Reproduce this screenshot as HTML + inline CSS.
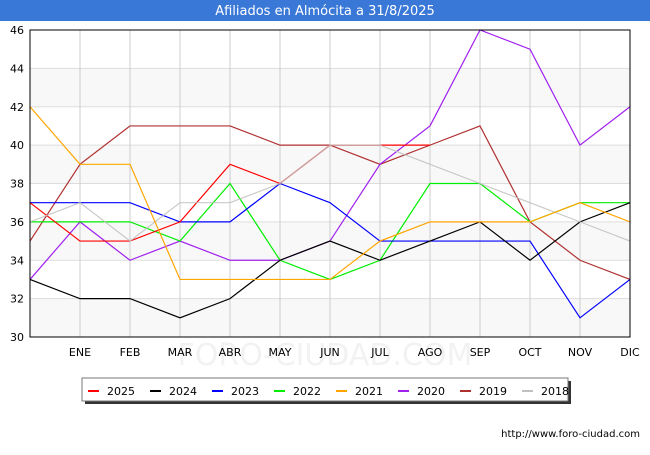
<!DOCTYPE html>
<html><head><meta charset="utf-8"><style>
body{margin:0;background:#fff;font-family:"Liberation Sans","DejaVu Sans",sans-serif}
svg text{font-family:"DejaVu Sans","Liberation Sans",sans-serif}
</style></head><body>
<svg id="c" width="650" height="450">
<rect x="0" y="0" width="650" height="450" fill="#fff"/>
<rect x="0" y="0" width="650" height="21" fill="#3a78d8"/>
<text x="325" y="15" text-anchor="middle" fill="#fff" font-size="13">Afiliados en Almócita a 31/8/2025</text>
<g id="bands"></g><g id="grid"></g>
<text x="325" y="365" text-anchor="middle" fill="#f2f2f2" font-size="30">FORO-CIUDAD.COM</text>
<g id="lines"></g>
<rect x="30" y="30" width="600" height="307" fill="none" stroke="#000" stroke-width="1"/>
<g id="axes"></g>
<rect x="85" y="381" width="486" height="23" fill="#333"/>
<rect x="82" y="378" width="486" height="23" fill="#fff" stroke="#777"/>
<g id="legend"></g>
<text x="640" y="437" text-anchor="end" font-size="10" fill="#000">http://www.foro-ciudad.com</text>
</svg>
<script>
const months=["","ENE","FEB","MAR","ABR","MAY","JUN","JUL","AGO","SEP","OCT","NOV","DIC"];
const yTicks=[30,32,34,36,38,40,42,44,46];
const seriesNames=["2025","2024","2023","2022","2021","2020","2019","2018"];
const colors=["#ff0000","#000000","#0000ff","#00ee00","#ffa500","#a020f0","#b03030","#c0c0c0"];
const s2025=[37,35,35,36,39,38,40,40,40];
const s2024=[33,32,32,31,32,34,35,34,35,36,34,36,37];
const s2023=[37,37,37,36,36,38,37,35,35,35,35,31,33];
const s2022=[36,36,36,35,38,34,33,34,38,38,36,37,37];
const s2021=[42,39,39,33,33,33,33,35,36,36,36,37,36];
const s2020=[33,36,34,35,34,34,35,39,41,46,45,40,42];
const s2019=[35,39,41,41,41,40,40,39,40,41,36,34,33];
const s2018=[36,37,35,37,37,38,40,40,39,38,37,36,35];
const all=[s2025,s2024,s2023,s2022,s2021,s2020,s2019,s2018];
const NS="http://www.w3.org/2000/svg";
const x=i=>30+i*50, y=v=>337-(v-30)*307/16;
function mk(t,a,p){const e=document.createElementNS(NS,t);for(const k in a)e.setAttribute(k,a[k]);p.appendChild(e);return e;}
const bands=document.getElementById('bands'),grid=document.getElementById('grid'),axes=document.getElementById('axes'),lines=document.getElementById('lines'),leg=document.getElementById('legend');
for(let i=0;i<yTicks.length-1;i++){if(i%2==0){const b=mk('rect',{x:30,y:y(yTicks[i+1]),width:600,height:y(yTicks[i])-y(yTicks[i+1]),fill:'#f8f8f8'},bands);

}}
yTicks.forEach(v=>{const l=mk('line',{x1:30,x2:630,y1:y(v),y2:y(v),stroke:'#dddddd'},grid);


const t=mk('text',{x:24,y:y(v)+4,'text-anchor':'end','font-size':11},axes);t.textContent=v;

});
months.forEach((m,i)=>{const l=mk('line',{x1:x(i),x2:x(i),y1:30,y2:337,stroke:'#cccccc'},grid);


if(m){const t=mk('text',{x:x(i),y:356,'text-anchor':'middle','font-size':11},axes);t.textContent=m;

}});
const order=[6,5,3,2,1,0,7,4];
order.forEach(s=>{const d=all[s];const p=mk('polyline',{points:d.map((v,i)=>x(i)+','+y(v)).join(' '),fill:'none',stroke:colors[s],'stroke-width':1.2,'stroke-opacity':s==7?0.85:1},lines);

});
seriesNames.forEach((n,i)=>{const lx=88+i*62;const l=mk('line',{x1:lx,x2:lx+11,y1:391,y2:391,stroke:colors[i],'stroke-width':2},leg);


const t=mk('text',{x:lx+19,y:395,'font-size':11},leg);t.textContent=n;

});
</script>
</body></html>
